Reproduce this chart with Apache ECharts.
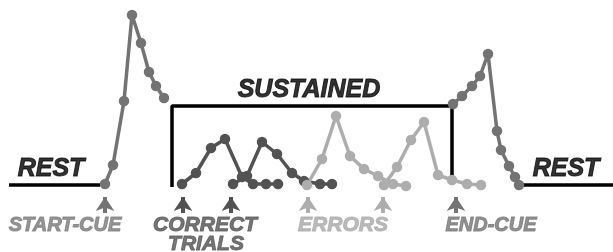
<!DOCTYPE html>
<html>
<head>
<meta charset="utf-8">
<script src="https://cdn.jsdelivr.net/npm/echarts@6/dist/echarts.min.js"></script>
<style>
html,body{margin:0;padding:0;background:#fff;}
#main{width:613px;height:252px;}
</style>
</head>
<body>
<div id="main"></div>
<script>
// time (x) / signal above rest (y) for each trace
var startTrace = [[105,1],[113,20],[124,84],[132,170],[141,142],[149,113],[156,99],[164,87]];
var correct1 = [[182,1],[196,12],[211,37],[225,46],[242,8],[253,1],[266,1],[278,1]];
var correct2 = [[233,1],[247,9],[262,43],[277,31],[292,12],[304,4],[320,1],[332,1]];
var error1 = [[307,0],[322,26],[336,69],[350,29],[364,16],[378,9],[393,1],[406,-1]];
var error2 = [[384,0],[397,18],[411,45],[424,63],[438,10],[452,5],[467,1],[481,0]];
var endTrace = [[453,81],[462,89],[472,99],[480,109],[488,131],[497,54],[501,35],[509,19],[515,8],[519,0]];
var restLeft = [[9,0],[100,0]];
var restRight = [[520,0],[613,0]];
var sustainedBox = [[172,-2],[172,79],[452,79],[452,8]];
// cue arrows: time, colour
var cueTimes = [105,183,231,308,383,456];
var cueColors = ['#747474','#525252','#525252','#adadad','#adadad','#747474'];
// labels
var labelTexts = ['REST','REST','SUSTAINED','START-CUE','CORRECT','TRIALS','ERRORS','END-CUE'];
var labelPos = [[51,16],[566,16],[309,95],[65,-40],[205,-40],[206,-59],[343,-40],[491,-40]];
var labelColors = ['#000','#000','#000','#7c7c7c','#555','#555','#aaa','#777'];
var labelSizes = [25,25,25,20,21,21,21,20];

var myChart = echarts.init(document.getElementById('main'));

function trace(data, color){
	return {
		type:'line',
		data:data,
		symbol:'circle',
		symbolSize:10.5,
		showAllSymbol:true,
		lineStyle:{color:color,width:3.5},
		itemStyle:{color:color},
		z:3,
		silent:true,
		animation:false
	};
}
function plain(data){
	return {
		type:'line',
		data:data,
		symbol:'none',
		lineStyle:{color:'#000',width:3.5},
		z:2,
		silent:true,
		animation:false
	};
}

var arrows = [];
for(var i=0;i<cueTimes.length;i++){
	arrows.push({
		coords:[[cueTimes[i],-28],[cueTimes[i],-12]],
		lineStyle:{color:cueColors[i]}
	});
}
var labels = [];
for(var j=0;j<labelTexts.length;j++){
	labels.push({
		value:labelPos[j],
		label:{
			formatter:labelTexts[j],
			color:labelColors[j],
			fontSize:labelSizes[j],
			textBorderColor:labelColors[j],
			textBorderWidth:1
		}
	});
}

var option = {
	animation:false,
	grid:{left:0,right:0,top:0,bottom:0},
	xAxis:{type:'value',min:0,max:613,show:false},
	yAxis:{type:'value',min:-67,max:185,show:false},
	series:[
		plain(restLeft),
		plain(restRight),
		plain(sustainedBox),
		trace(startTrace,'#737373'),
		trace(correct1,'#525252'),
		trace(correct2,'#525252'),
		trace(error1,'#adadad'),
		trace(error2,'#adadad'),
		trace(endTrace,'#737373'),
		{
			type:'lines',
			coordinateSystem:'cartesian2d',
			symbol:['none','arrow'],
			symbolSize:[0,14],
			lineStyle:{width:4,opacity:1},
			data:arrows,
			silent:true
		},
		{
			type:'scatter',
			symbolSize:0,
			data:labels,
			label:{
				show:true,
				position:'inside',
				fontFamily:'Liberation Sans',
				fontWeight:'bold',
				fontStyle:'italic'
			},
			silent:true
		}
	]
};
myChart.setOption(option);
</script>
</body>
</html>
